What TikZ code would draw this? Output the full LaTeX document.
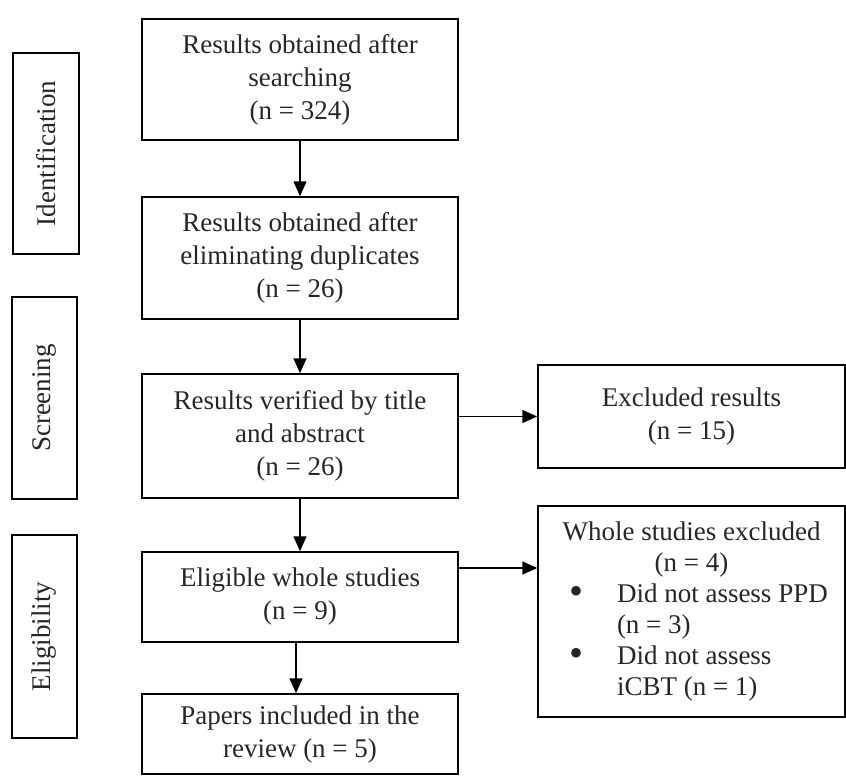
\documentclass[tikz,border=0pt]{standalone}
\usepackage{fontspec}
\setmainfont{Liberation Serif}
\usetikzlibrary{arrows.meta}

% bullet lines of the exclusion box
\newcommand{\bigbullet}{\smash{\raisebox{-2pt}{\fontsize{40}{40}\selectfont\textbullet}}}
\newcommand{\bulletitem}[1]{\makebox[245pt][l]{\makebox[48pt][l]{\bigbullet}#1}}
\newcommand{\bulletcont}[1]{\makebox[245pt][l]{\hspace*{48pt}#1}}

\begin{document}
\begin{tikzpicture}
		[x=1pt,y=1pt,
		font=\fontsize{27}{33}\selectfont,
		%Styles
		stage box/.style={draw,line width=1.5pt,align=center,inner sep=0pt,minimum width=316pt,text=black!85},
		phase label/.style={draw,line width=1.5pt,rotate=90,inner sep=0pt,minimum height=65pt,text=black!85},
		side box/.style={draw,line width=1.5pt,align=center,inner sep=0pt,minimum width=307pt,text=black!85},
		flow arrow/.style={-{Triangle[width=13pt,length=15pt]},line width=1.5pt}
		]
		
		\useasboundingbox (0,0) rectangle (846,-776);
		
		%Main flow
		\node[stage box,minimum height=121pt] (search) at (300,-79.5) {Results obtained after\\searching\\(n = 324)};
		\node[stage box,minimum height=122pt] (dupl) at (300,-258) {Results obtained after\\eliminating duplicates\\(n = 26)};
		\node[stage box,minimum height=124pt] (title) at (300,-436) {Results verified by title\\and abstract\\(n = 26)};
		\node[stage box,minimum height=90pt] (eligible) at (300,-597) {Eligible whole studies\\(n = 9)};
		\node[stage box,minimum height=80pt] (included) at (300,-734) {Papers included in the\\review (n = 5)};
		
		%Phases
		\node[phase label,minimum width=201pt,minimum height=66pt] (ident) at (46,-153.5) {Identification};
		\node[phase label,minimum width=202pt] (screen) at (44.5,-398) {Screening};
		\node[phase label,minimum width=203pt] (elig) at (44.5,-636.5) {Eligibility};
		
		%Exclusions
		\node[side box,minimum height=103pt] (excluded) at (691.5,-416.5) {Excluded results\\(n = 15)};
		\node[side box,minimum height=211pt,font=\fontsize{27}{31}\selectfont] (whole) at (691.5,-611.5)
			{Whole studies excluded\\(n = 4)\\\bulletitem{Did not assess PPD}\\\bulletcont{(n = 3)}\\\bulletitem{Did not assess}\\\bulletcont{iCBT (n = 1)}};
		
		%Arrows
		\draw[flow arrow] (search) -- (dupl);
		\draw[flow arrow] (dupl) -- (title);
		\draw[flow arrow] (title) -- (eligible);
		\draw[flow arrow] ([xshift=-4pt]eligible.south) -- ([xshift=-4pt]included.north);
		\draw[flow arrow] (title.east |- excluded.west) -- (excluded.west);
		\draw[flow arrow] ([yshift=29pt]eligible.east) -- ([yshift=29pt]eligible.east -| whole.west);
	\end{tikzpicture}
\end{document}
